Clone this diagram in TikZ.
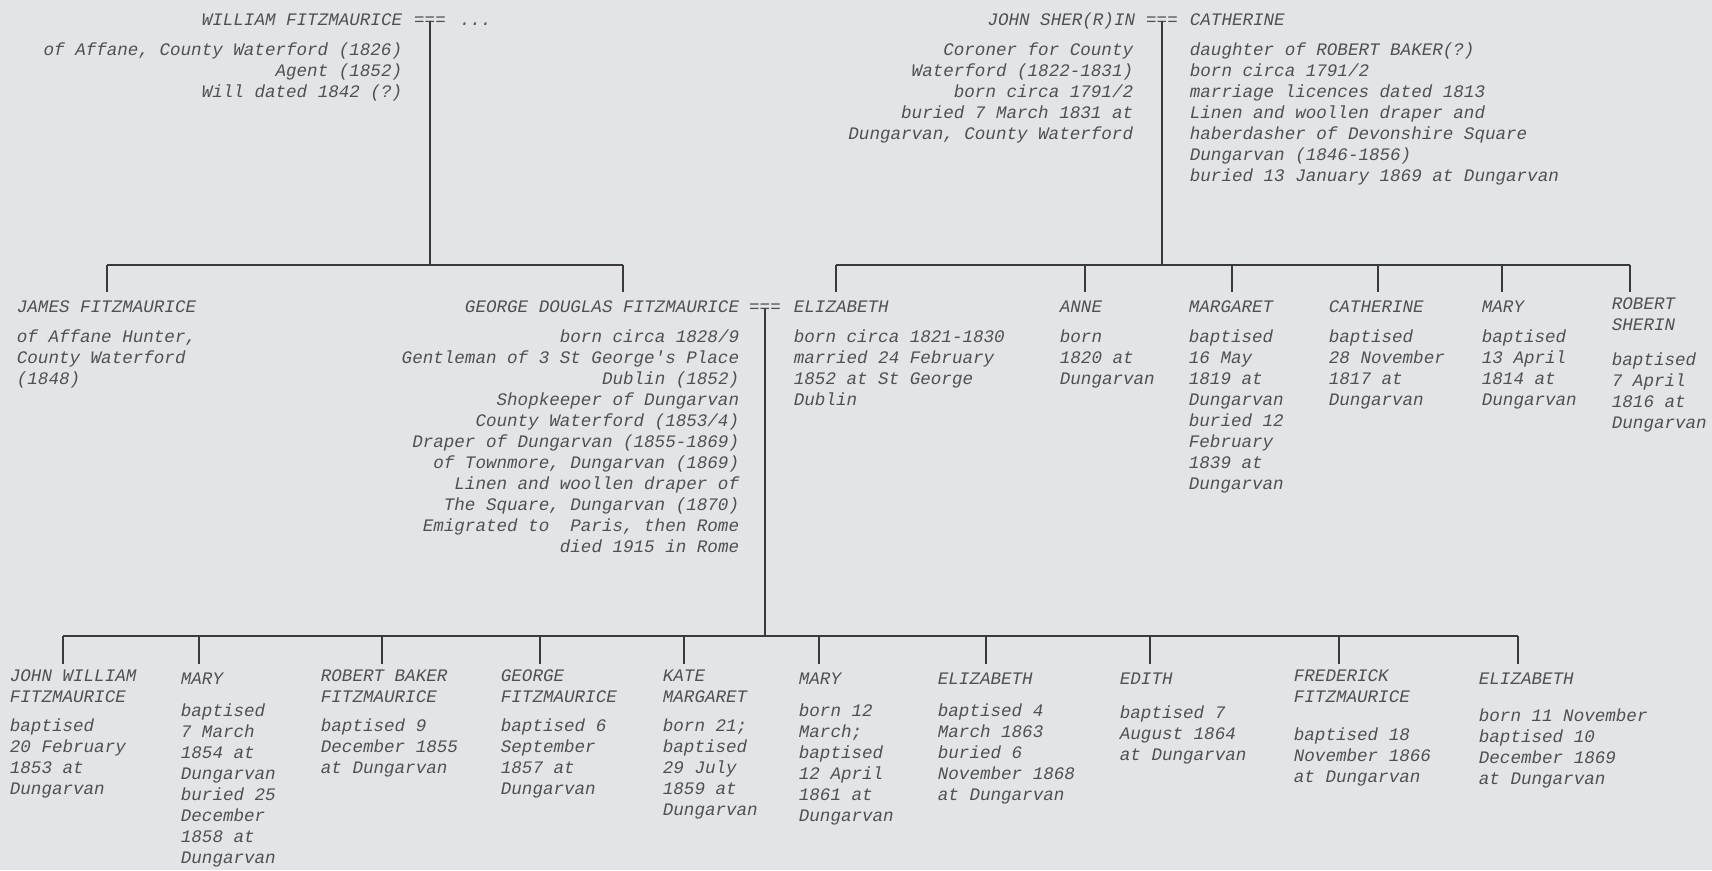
\documentclass[tikz,border=0pt]{standalone}
\usepackage{fontspec}
\setmonofont{Liberation Mono}
\usetikzlibrary{calc}
\definecolor{paper}{RGB}{226,228,229}
\definecolor{ink}{RGB}{78,80,86}
\definecolor{rule}{RGB}{58,58,60}
\tikzset{
	txt/.style={inner sep=0pt, text=ink, font=\ttfamily\itshape\fontsize{10}{11.95}\selectfont},
	line/.style={txt, execute at begin node=\strut, yshift=8.37pt},
	pname/.style={line, align=left, anchor=north west},
	pinfo/.style={line, align=left, anchor=north west},
	pinfor/.style={line, align=right, anchor=north east},
	stem/.style={shorten >=3pt}
}

\begin{document}
\begin{tikzpicture}[x=0.02cm, y=-0.02cm, line width=1pt, color=rule]
\fill[paper] (0,0) rectangle (1712,870);
\useasboundingbox (0,0) rectangle (1712,870);

\node[pinfor] (wf) at (403,25) {WILLIAM FITZMAURICE};
\node[txt, anchor=base] (m1) at (430,25) {===};
\node[pname] (wx) at (459,25) {...};
\node[pinfor] (wfi) at (403,57) {of Affane, County Waterford (1826)\\Agent (1852)\\Will dated 1842 (?)};

\node[pinfor] (js) at (1136,25) {JOHN SHER(R)IN};
\node[txt, anchor=base] (m2) at (1162,25) {===};
\node[pname] (cb) at (1189,25) {CATHERINE};
\node[pinfor] (jsi) at (1134,57) {Coroner for County\\Waterford (1822-1831)\\born circa 1791/2\\buried 7 March 1831 at\\Dungarvan, County Waterford};
\node[pinfo] (cbi) at (1189,57) {daughter of ROBERT BAKER(?)\\born circa 1791/2\\marriage licences dated 1813\\Linen and woollen draper and\\haberdasher of Devonshire Square\\Dungarvan (1846-1856)\\buried 13 January 1869 at Dungarvan};

\coordinate (wl) at (107,265);
\coordinate (wr) at (623,265);
\coordinate (sl) at (836,265);
\coordinate (sr) at (1630,265);
\draw (wl) -- (wr);
\draw (sl) -- (sr);
\draw (m1.center) -- (m1.center |- wl);
\draw (m2.center) -- (m2.center |- sl);

\node[pname] (jf) at (16,312) {JAMES FITZMAURICE};
\node[pinfo] (jfi) at (16,344) {of Affane Hunter,\\County Waterford\\(1848)};
\node[pinfor] (gf) at (740,312) {GEORGE DOUGLAS FITZMAURICE};
\node[txt, anchor=base] (m3) at (765,312) {===};
\node[pinfor] (gfi) at (740,344) {born circa 1828/9\\Gentleman of 3 St George's Place\\Dublin (1852)\\Shopkeeper of Dungarvan\\County Waterford (1853/4)\\Draper of Dungarvan (1855-1869)\\of Townmore, Dungarvan (1869)\\Linen and woollen draper of\\The Square, Dungarvan (1870)\\Emigrated to\ \ Paris, then Rome\\died 1915 in Rome};
\draw[stem] (wl) -- (wl |- jf.north);
\draw[stem] (wr) -- (wr |- gf.north);

\foreach \x/\d/\n/\i/\y [count=\k] in {
	793/836/ELIZABETH/{born circa 1821-1830\\married 24 February\\1852 at St George\\Dublin}/344,
	1059/1085/ANNE/{born\\1820 at\\Dungarvan}/344,
	1188/1232/MARGARET/{baptised\\16 May\\1819 at\\Dungarvan\\buried 12\\February\\1839 at\\Dungarvan}/344,
	1328/1378/CATHERINE/{baptised\\28 November\\1817 at\\Dungarvan}/344,
	1481/1502/MARY/{baptised\\13 April\\1814 at\\Dungarvan}/344,
	1611/1630/{ROBERT\\SHERIN}/{baptised\\7 April\\1816 at\\Dungarvan}/367}{
	\coordinate (sd\k) at (\d,265);
	\node[pname] (s\k) at (\x,312) {\n};
	\node[pinfo] (si\k) at (\x,\y) {\i};
	\draw[stem] (sd\k) -- (sd\k |- s\k.north);
}

\coordinate (gl) at (63,636);
\coordinate (gr) at (1518,636);
\draw (gl) -- (gr);
\draw (m3.center) -- (m3.center |- gl);

\foreach \x/\d/\n/\i/\y [count=\k] in {
	9/63/{JOHN WILLIAM\\FITZMAURICE}/{baptised\\20 February\\1853 at\\Dungarvan}/733,
	180/199/MARY/{baptised\\7 March\\1854 at\\Dungarvan\\buried 25\\December\\1858 at\\Dungarvan}/718,
	320/382/{ROBERT BAKER\\FITZMAURICE}/{baptised 9\\December 1855\\at Dungarvan}/733,
	500/540/{GEORGE\\FITZMAURICE}/{baptised 6\\September\\1857 at\\Dungarvan}/733,
	662/684/{KATE\\MARGARET}/{born 21;\\baptised\\29 July\\1859 at\\Dungarvan}/733,
	798/819/MARY/{born 12\\March;\\baptised\\12 April\\1861 at\\Dungarvan}/718,
	937/986/ELIZABETH/{baptised 4\\March 1863\\buried 6\\November 1868\\at Dungarvan}/718,
	1119/1150/EDITH/{baptised 7\\August 1864\\at Dungarvan}/720,
	1293/1339/{FREDERICK\\FITZMAURICE}/{baptised 18\\November 1866\\at Dungarvan}/742,
	1478/1518/ELIZABETH/{born 11 November\\baptised 10\\December 1869\\at Dungarvan}/723}{
	\coordinate (cd\k) at (\d,636);
	\node[pname] (c\k) at (\x,684) {\n};
	\node[pinfo] (ci\k) at (\x,\y) {\i};
	\draw[stem] (cd\k) -- (cd\k |- c\k.north);
}

\end{tikzpicture}
\end{document}
